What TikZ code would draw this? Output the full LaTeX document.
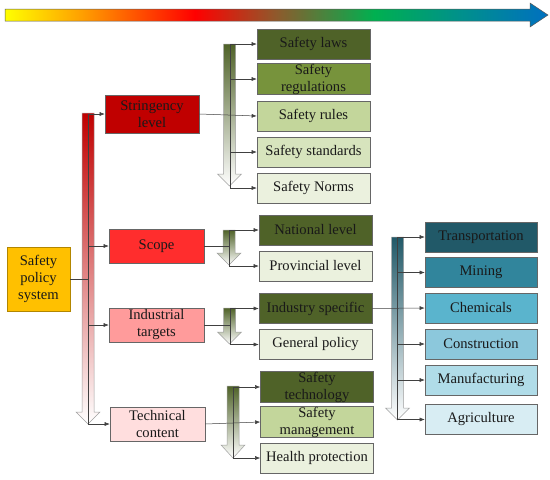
\documentclass[tikz,border=0pt]{standalone}
\usepackage{fontspec}
\setmainfont{Liberation Serif}
\usepackage{tikz}
\usetikzlibrary{arrows.meta}

\definecolor{polgold}{HTML}{FFC000}
\definecolor{lvlA}{HTML}{C00000}
\definecolor{lvlB}{HTML}{FF2D2D}
\definecolor{lvlC}{HTML}{FF9B9B}
\definecolor{lvlD}{HTML}{FFDEDE}
\definecolor{grA}{HTML}{4F6228}
\definecolor{grB}{HTML}{77933C}
\definecolor{grC}{HTML}{C3D69B}
\definecolor{grD}{HTML}{D7E4BD}
\definecolor{grE}{HTML}{EBF1DE}
\definecolor{blA}{HTML}{215968}
\definecolor{blB}{HTML}{31859C}
\definecolor{blC}{HTML}{5AB4CD}
\definecolor{blD}{HTML}{8CC8DC}
\definecolor{blE}{HTML}{B0DCE8}
\definecolor{blF}{HTML}{D8EDF3}
\definecolor{scYel}{HTML}{FFFF00}
\definecolor{scOra}{HTML}{FFA000}
\definecolor{scRed}{HTML}{FF0000}
\definecolor{scBro}{HTML}{8E5A2C}
\definecolor{scGre}{HTML}{00B050}
\definecolor{scTea}{HTML}{00908C}
\definecolor{scBlu}{HTML}{0070C0}

% the path covers the 25bp..75bp band of the shading
\pgfdeclarehorizontalshading{rainbowbar}{100bp}{%
  color(0bp)=(scYel); color(25bp)=(scYel); color(32bp)=(scOra);
  color(42.5bp)=(scRed); color(50bp)=(scBro); color(59bp)=(scGre);
  color(67bp)=(scTea); color(75bp)=(scBlu); color(100bp)=(scBlu)}

% hollow block arrow pointing down: centre x, top, head start, tip, colour
\newcommand{\downarrowblock}[5]{%
  \path[draw=gray!75, line width=0.5pt, top color=#5, bottom color=white]
    (#1-6,#2) -- (#1+6,#2) -- (#1+6,#3) -- (#1+12,#3) -- (#1,#4)
    -- (#1-12,#3) -- (#1-6,#3) -- cycle;}

\begin{document}
\begin{tikzpicture}[
            x=1pt, y=-1pt,
            font=\fontsize{14.6}{17}\selectfont,
            box/.style  ={draw=gray!80!black, line width=0.6pt, inner xsep=1pt,
                          inner ysep=0pt, align=center, text=black!90},
            lvl/.style  ={box, minimum width=95pt, minimum height=34pt},
            leaf/.style ={box, minimum width=113pt, minimum height=30pt},
            conn/.style ={line width=0.5pt, draw=black!75},
            arr/.style  ={conn, -{Latex[length=5pt,width=4pt]}}
        ]
        \useasboundingbox (0,0) rectangle (550,480);

        %% ---- top bar: colour scale ------------------------------------------
        \path[draw=gray!70!black, line width=0.5pt, shading=rainbowbar]
            (5,9) -- (530,9) -- (530,3) -- (548,15) -- (530,27) -- (530,21)
            -- (5,21) -- cycle;

        %% ---- root and its four aspects --------------------------------------
        \node[box, fill=polgold, draw=polgold!70!black, minimum width=63pt,
              minimum height=64pt] (policy) at (38.5,279) {Safety\\policy\\system};

        \downarrowblock{88}{113}{412}{424}{lvlA}

        \node[lvl, fill=lvlA, minimum width=94pt, minimum height=38pt]
            (strin) at (152,114) {Stringency\\level};
        \node[lvl, fill=lvlB] (scope) at (156.5,246) {Scope};
        \node[lvl, fill=lvlC] (indus) at (156.5,325) {Industrial\\targets};
        \node[lvl, fill=lvlD] (techn) at (157.5,424) {Technical\\content};

        \coordinate (tTop) at (88,114);
        \coordinate (tBot) at (88,424);
        \draw[conn] (policy.east) -- (tTop |- policy.east);
        \draw[conn] (tTop) -- (tBot);
        \draw[arr] (tTop) -- (strin.west);
        \draw[arr] (tTop |- scope.west) -- (scope.west);
        \draw[arr] (tTop |- indus.west) -- (indus.west);
        \draw[arr] (tBot) -- (techn.west);

        %% ---- stringency level -----------------------------------------------
        \downarrowblock{229.5}{44}{174}{186}{grA}

        \node[leaf, fill=grA] (laws)  at (313.5,44)  {Safety laws};
        \node[leaf, fill=grB] (regs)  at (313.5,79)  {Safety\\regulations};
        \node[leaf, fill=grC] (rules) at (313.5,116) {Safety rules};
        \node[leaf, fill=grD] (stand) at (313.5,152) {Safety standards};
        \node[leaf, fill=grE] (norms) at (313.5,188) {Safety Norms};

        \coordinate (sTop) at (230,44);
        \coordinate (sBot) at (230,188);
        \draw[conn] (sTop) -- (sBot);
        \draw[arr] (sTop) -- (laws.west);
        \draw[arr] (sTop |- regs.west) -- (regs.west);
        \draw[arr] (strin.east) -- (rules.west);
        \draw[arr] (sTop |- stand.west) -- (stand.west);
        \draw[arr] (sBot) -- (norms.west);

        %% ---- scope ----------------------------------------------------------
        \downarrowblock{229}{230}{253}{265}{grA}

        \node[leaf, fill=grA] (natio) at (315.5,230) {National level};
        \node[leaf, fill=grE] (provi) at (315.5,266) {Provincial level};

        \coordinate (cTop) at (229,230);
        \coordinate (cBot) at (229,266);
        \draw[conn] (cTop) -- (cBot);
        \draw[conn] (scope.east) -- (cTop |- scope.east);
        \draw[arr] (cTop) -- (natio.west);
        \draw[arr] (cBot) -- (provi.west);

        %% ---- industrial targets ---------------------------------------------
        \downarrowblock{229.5}{308}{332}{344}{grA}

        \node[leaf, fill=grA] (spec) at (315.5,308.5) {Industry specific};
        \node[leaf, fill=grE] (gene) at (315.5,344.5) {General policy};

        \coordinate (iTop) at (230,308.5);
        \coordinate (iBot) at (230,344.5);
        \draw[conn] (iTop) -- (iBot);
        \draw[conn] (indus.east) -- (iTop |- indus.east);
        \draw[arr] (iTop) -- (spec.west);
        \draw[arr] (iBot) -- (gene.west);

        %% ---- technical content ----------------------------------------------
        \downarrowblock{233}{386}{445}{458}{grA}

        \node[leaf, fill=grA] (techno) at (317,387) {Safety\\technology};
        \node[leaf, fill=grC] (manag)  at (317,422) {Safety\\management};
        \node[leaf, fill=grE] (health) at (317,458) {Health protection};

        \coordinate (hTop) at (233,387);
        \coordinate (hBot) at (233,458);
        \draw[conn] (hTop) -- (hBot);
        \draw[arr] (hTop) -- (techno.west);
        \draw[arr] (techn.east) -- (manag.west);
        \draw[arr] (hBot) -- (health.west);

        %% ---- industry specific: sectors -------------------------------------
        \downarrowblock{397.5}{237}{408}{420}{blA}

        \node[leaf, fill=blA, minimum width=112pt] (trans)  at (481,237)   {Transportation};
        \node[leaf, fill=blB, minimum width=112pt] (mining) at (481,272.5) {Mining};
        \node[leaf, fill=blC, minimum width=112pt] (chem)   at (481,308)   {Chemicals};
        \node[leaf, fill=blD, minimum width=112pt] (constr) at (481,344)   {Construction};
        \node[leaf, fill=blE, minimum width=112pt] (manuf)  at (481,380)   {Manufacturing};
        \node[leaf, fill=blF, minimum width=112pt] (agri)   at (481,419.5) {Agriculture};

        \coordinate (bTop) at (397.5,237);
        \coordinate (bBot) at (397.5,419.5);
        \draw[conn] (bTop) -- (bBot);
        \draw[arr] (bTop) -- (trans.west);
        \draw[arr] (bTop |- mining.west) -- (mining.west);
        \draw[arr] (spec.east) -- (chem.west);
        \draw[arr] (bTop |- constr.west) -- (constr.west);
        \draw[arr] (bTop |- manuf.west) -- (manuf.west);
        \draw[arr] (bBot) -- (agri.west);
    \end{tikzpicture}
\end{document}
